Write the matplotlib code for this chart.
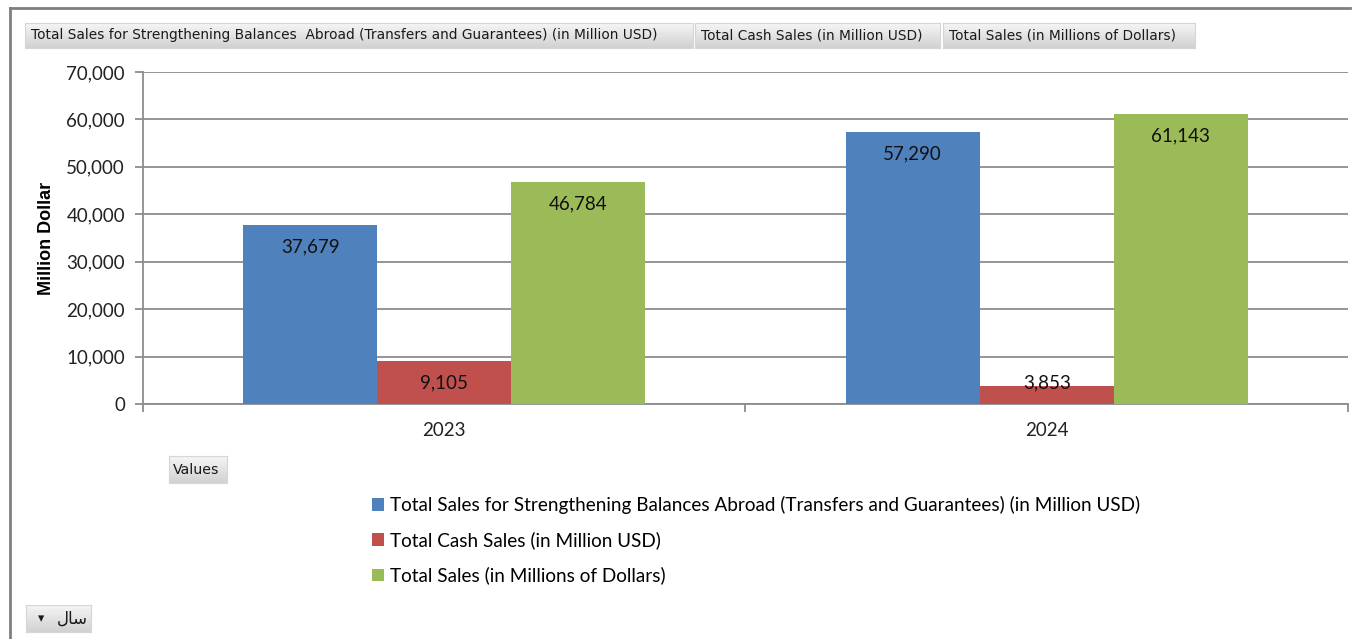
#!/usr/bin/env python3
"""Sales chart (pivot-chart style) recreated with matplotlib."""

import matplotlib
matplotlib.use("Agg")
import matplotlib.pyplot as plt
import numpy as np
from matplotlib.ticker import FuncFormatter, MultipleLocator

W, H = 1358, 639

YEARS = ["2023", "2024"]
SERIES = [
    "Total Sales for Strengthening Balances Abroad (Transfers and Guarantees) (in Million USD)",
    "Total Cash Sales (in Million USD)",
    "Total Sales (in Millions of Dollars)",
]
FIELD_BUTTONS = [
    "Total Sales for Strengthening Balances  Abroad (Transfers and Guarantees) (in Million USD)",
    "Total Cash Sales (in Million USD)",
    "Total Sales (in Millions of Dollars)",
]
BALANCES_ABROAD = [37679, 57290]
CASH_SALES = [9105, 3853]
TOTAL_SALES = [46784, 61143]
# Arabic "سال" in visual order with presentation forms (matplotlib has no shaping)
YEAR_FIELD = "\uFEDD\uFE8E\uFEB3"

COLORS = ["#4F81BD", "#C0504D", "#9BBB59"]
GRID = "#8C8C8C"
MAIN_FONT = "Lato"
BTN_FONT = "DejaVu Sans"


def px(x, y):
    return x / W, 1 - y / H


def button(fig, x0, y0, x1, y1):
    # gradient background like the Excel pivot field buttons
    ax = fig.add_axes([x0 / W, 1 - y1 / H, (x1 - x0) / W, (y1 - y0) / H])
    grad = np.linspace(0.96, 0.82, 32).reshape(-1, 1)
    ax.imshow(grad, cmap="gray", vmin=0, vmax=1, aspect="auto", extent=(0, 1, 0, 1))
    ax.set_xlim(0, 1)
    ax.set_ylim(0, 1)
    ax.set_xticks([])
    ax.set_yticks([])
    for s in ax.spines.values():
        s.set_color("#D6D6D6")
        s.set_linewidth(0.8)
    return ax


fig = plt.figure(figsize=(W / 100, H / 100), dpi=100)
fig.patch.set_facecolor("white")

# outer frame of the chart area
fig.add_artist(plt.Line2D([10 / W, 10 / W], [0, 1 - 8 / H], color="#7F7F7F", lw=2))
fig.add_artist(plt.Line2D([10 / W, 1350 / W], [1 - 8 / H, 1 - 8 / H], color="#7F7F7F", lw=2))

ax = fig.add_axes([143 / W, 1 - 404 / H, (1348 - 143) / W, (404 - 72) / H])
x = np.arange(len(YEARS))
bw = 0.2224
values = [BALANCES_ABROAD, CASH_SALES, TOTAL_SALES]
bars = []
for i, (name, vals) in enumerate(zip(SERIES, values)):
    b = ax.bar(x + (i - 1) * bw, vals, bw, color=COLORS[i], label=name, zorder=3)
    bars.append(b)

ax.set_xlim(-0.5, 1.5)
ax.set_ylim(0, 70000)
ax.yaxis.set_major_locator(MultipleLocator(10000))
ax.yaxis.set_major_formatter(FuncFormatter(lambda v, p: f"{v:,.0f}"))
ax.grid(axis="y", color=GRID, lw=1.3, zorder=0)
for s in ["top", "right"]:
    ax.spines[s].set_visible(False)
ax.spines["left"].set_color(GRID)
ax.spines["bottom"].set_color(GRID)
ax.spines["left"].set_linewidth(1.3)
ax.spines["bottom"].set_linewidth(1.3)
ax.tick_params(axis="y", length=6, width=1.3, color=GRID, labelsize=13.5,
               pad=7, labelcolor="#222222")
ax.set_xticks([-0.5, 0.5, 1.5])
ax.set_xticklabels([])
ax.tick_params(axis="x", length=6, width=1.3, color=GRID)
for xi, lab in zip(x, YEARS):
    ax.text(xi, -5600, lab, ha="center", va="center", fontsize=13.5,
            family=MAIN_FONT, color="#222222")
for t in ax.get_yticklabels():
    t.set_family(MAIN_FONT)
ax.set_ylabel("Million Dollar", fontsize=13, fontweight="bold", family="Liberation Sans",
              labelpad=8)

# data labels near the inside end of the bars
per_px = 70000 / (404 - 72)
for b in bars:
    for r in b:
        v = r.get_height()
        yl = max(v - 22 * per_px, 21 * per_px)
        ax.text(r.get_x() + r.get_width() / 2, yl, f"{v:,.0f}", ha="center", va="center",
                fontsize=13.5, family=MAIN_FONT, color="#111111", zorder=4)

# field buttons
btns = [(25, 23, 693, 48), (695, 23, 940, 48), (943, 23, 1195, 48)]
for (x0, y0, x1, y1), txt in zip(btns, FIELD_BUTTONS):
    button(fig, x0, y0, x1, y1)
    fig.text((x0 + 6) / W, 1 - (y0 + y1) / 2 / H, txt, ha="left", va="center",
             fontsize=9.95, family=BTN_FONT, color="#1A1A1A")

button(fig, 169, 456, 227, 483)
fig.text(173 / W, 1 - 469.5 / H, "Values", ha="left", va="center", fontsize=10.2,
         family=BTN_FONT, color="#1A1A1A")

button(fig, 26, 605, 91, 632)
fig.text(88 / W, 1 - 619 / H, YEAR_FIELD, ha="right", va="center", fontsize=12,
         family="DejaVu Sans", color="#1A1A1A")
fig.text(41 / W, 1 - 619 / H, "\u25BE", ha="center", va="center", fontsize=9,
         family="DejaVu Sans", color="#1A1A1A")

# legend
fig.legend(handles=[b[0] for b in bars], labels=SERIES, loc="upper left",
           bbox_to_anchor=px(372, 496), frameon=False, prop={"family": MAIN_FONT, "size": 13.55},
           handlelength=0.65, handleheight=0.65, handletextpad=0.3, labelspacing=0.92,
           borderaxespad=0, borderpad=0)

fig.savefig("out.png", dpi=100)
